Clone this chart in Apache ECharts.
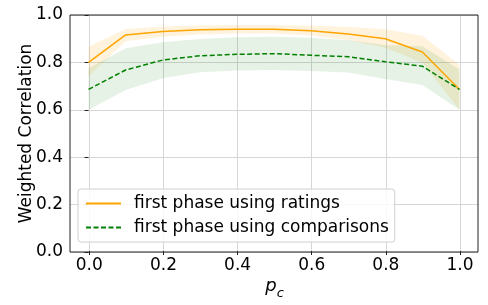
<!DOCTYPE html>
<html><head><meta charset="utf-8">
<script src="https://cdn.jsdelivr.net/npm/echarts@6/dist/echarts.min.js"></script>
<style>html,body{margin:0;padding:0;background:#fff}#c{width:488px;height:305px}</style>
</head><body><div id="c"></div>
<script>
var pc = [0.0,0.1,0.2,0.3,0.4,0.5,0.6,0.7,0.8,0.9,1.0];
var ratings      = [0.800,0.916,0.930,0.938,0.940,0.940,0.934,0.920,0.900,0.844,0.686];
var ratingsUpper = [0.866,0.941,0.951,0.956,0.958,0.958,0.955,0.950,0.940,0.912,0.790];
var ratingsLower = [0.740,0.889,0.908,0.918,0.922,0.922,0.914,0.893,0.862,0.800,0.600];
var comparisons      = [0.686,0.768,0.810,0.828,0.834,0.837,0.830,0.824,0.803,0.784,0.686];
var comparisonsUpper = [0.775,0.860,0.885,0.899,0.906,0.908,0.904,0.893,0.873,0.868,0.770];
var comparisonsLower = [0.600,0.684,0.733,0.758,0.766,0.768,0.764,0.757,0.730,0.705,0.600];
var xTicks = [0.0,0.2,0.4,0.6,0.8,1.0];
var yTicks = [0.0,0.2,0.4,0.6,0.8,1.0];
var names = ['first phase using ratings','first phase using comparisons'];

var FONT = 'DejaVu Sans';
var FS = 17;
function band(upper, lower, color){
  return {
    type:'custom', xAxisIndex:0, yAxisIndex:0, silent:true, clip:true, z:1,
    data:[[0.5,0.5]], encode:{x:0,y:1},
    renderItem:function(params, api){
      var pts=[], i;
      for(i=0;i<pc.length;i++) pts.push(api.coord([pc[i],upper[i]]));
      for(i=pc.length-1;i>=0;i--) pts.push(api.coord([pc[i],lower[i]]));
      return {type:'polygon', shape:{points:pts}, style:{fill:color, stroke:null}};
    }
  };
}
function pairs(ys){ return pc.map(function(x,i){return [x,ys[i]];}); }

var chart = echarts.init(document.getElementById('c'), null, {renderer:'canvas'});
chart.setOption({
  animation:false,
  backgroundColor:'#fff',
  textStyle:{fontFamily:FONT},
  grid:[
    {left:70, right:10, top:15, bottom:53, show:true, borderColor:'#222', borderWidth:1, backgroundColor:'transparent', z:5},
    {left:89.3, right:28, top:15, bottom:53, show:false}
  ],
  xAxis:[
    {type:'value', gridIndex:0, min:-0.05, max:1.05, axisLine:{show:false}, axisTick:{show:false}, axisLabel:{show:false}, splitLine:{show:false}},
    {type:'value', gridIndex:1, min:0, max:1, interval:0.2, position:'bottom',
     axisLine:{show:false},
     axisTick:{show:true, length:4, inside:false, lineStyle:{color:'#222', width:1}},
     axisLabel:{margin:6, color:'#000', fontSize:FS, fontFamily:FONT, formatter:function(v){return v.toFixed(1);}},
     splitLine:{show:true, lineStyle:{color:'#d6d6d6', width:1}},
     name:'{p|p}{c|c}', nameLocation:'middle', nameGap:26, nameMoveOverlap:false,
     nameTextStyle:{rich:{p:{fontSize:18, fontStyle:'italic', fontFamily:FONT, color:'#000', verticalAlign:'bottom'},
                          c:{fontSize:13, fontStyle:'italic', fontFamily:FONT, color:'#000', verticalAlign:'bottom', padding:[0,0,-5,0]}}}
    }
  ],
  yAxis:[
    {type:'value', gridIndex:0, min:0, max:1, interval:0.2,
     axisLine:{show:false},
     axisTick:{show:true, length:4, inside:false, lineStyle:{color:'#222', width:1}},
     axisLabel:{margin:7, color:'#000', fontSize:FS, fontFamily:FONT, formatter:function(v){return v.toFixed(1);}},
     splitLine:{show:true, lineStyle:{color:'#d6d6d6', width:1}},
     name:'Weighted Correlation', nameLocation:'middle', nameGap:35, nameMoveOverlap:false,
     nameTextStyle:{fontSize:FS, color:'#000', fontFamily:FONT}
    },
    {type:'value', gridIndex:1, min:0, max:1, show:false}
  ],
  legend:{
    orient:'vertical', left:78, top:189, data:names,
    itemWidth:35, itemHeight:10, itemGap:7,
    backgroundColor:'rgba(255,255,255,0.85)', borderColor:'#d0d0d0', borderWidth:1, borderRadius:3,
    padding:[6,6,6,7],
    textStyle:{fontSize:FS, color:'#000', fontFamily:FONT, padding:[0,0,0,8]},
    itemStyle:{opacity:0}
  },
  series:[
    band(ratingsUpper, ratingsLower, 'rgba(255,165,0,0.13)'),
    band(comparisonsUpper, comparisonsLower, 'rgba(0,128,0,0.10)'),
    {name:names[0], type:'line', xAxisIndex:0, yAxisIndex:0, data:pairs(ratings), symbol:'none', z:3,
     lineStyle:{color:'#FFA500', width:1.5}, itemStyle:{color:'#FFA500'}},
    {name:names[1], type:'line', xAxisIndex:0, yAxisIndex:0, data:pairs(comparisons), symbol:'none', z:3,
     lineStyle:{color:'#008000', width:1.5, type:[5,2.5]}, itemStyle:{color:'#008000'}}
  ]
});
</script></body></html>
